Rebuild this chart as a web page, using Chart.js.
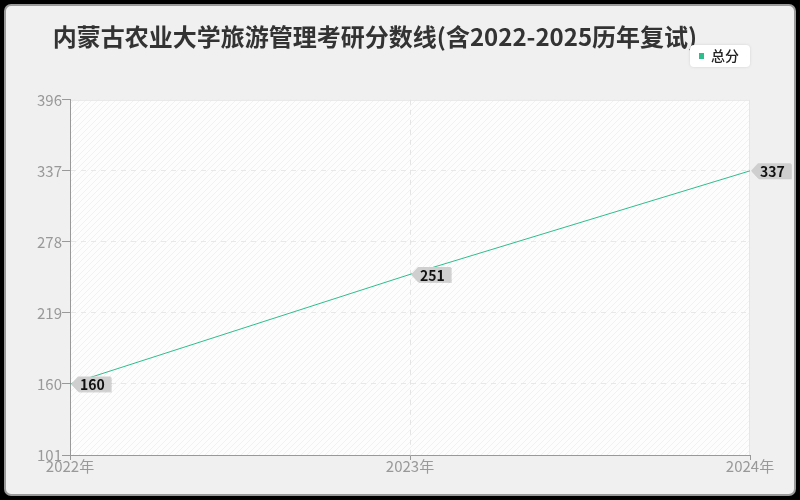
<!DOCTYPE html>
<html lang="zh">
<head>
    <meta charset="UTF-8">
    <title>内蒙古农业大学旅游管理考研分数线</title>
    <script src="https://cdn.jsdelivr.net/npm/chart.js"></script>
    <style>
        html, body { margin: 0; padding: 0; background: #000; }
        #frame {
            position: absolute; left: 4px; top: 4px; width: 788px; height: 488px;
            background: #f0f0f0; border: 2px solid #9a9a9a; border-radius: 7px;
        }
        #wrap { position: absolute; left: 0; top: 0; width: 800px; height: 500px; }
    </style>
</head>
<body>
    <div id="frame"></div>
    <div id="wrap"><canvas id="scoreChart" width="800" height="500"></canvas></div>
    <script>
        const titleText = '内蒙古农业大学旅游管理考研分数线(含2022-2025历年复试)';
        const years = ['2022年', '2023年', '2024年'];
        const totalScores = [160, 251, 337];
        const seriesName = '总分';
        const yMin = 101, yMax = 396, yStep = 59;
        const lineColor = '#2ebd8c';
        const fontFamily = '"Noto Sans CJK SC", "Noto Sans", sans-serif';

        // hatched background for plot area
        function makeHatch() {
            const c = document.createElement('canvas');
            c.width = 6; c.height = 6;
            const g = c.getContext('2d');
            g.fillStyle = '#fdfdfd';
            g.fillRect(0, 0, 6, 6);
            g.strokeStyle = '#f1f1f1';
            g.lineWidth = 1;
            g.beginPath();
            g.moveTo(0, 6); g.lineTo(6, 0);
            g.moveTo(-1, 1); g.lineTo(1, -1);
            g.moveTo(5, 7); g.lineTo(7, 5);
            g.stroke();
            return c;
        }

        const plotBg = {
            id: 'plotBg',
            beforeDraw(chart) {
                const { ctx, chartArea: a } = chart;
                ctx.save();
                ctx.fillStyle = ctx.createPattern(makeHatch(), 'repeat');
                ctx.fillRect(a.left, a.top, a.right - a.left, a.bottom - a.top);
                ctx.strokeStyle = '#e6e6e6';
                ctx.lineWidth = 1;
                ctx.beginPath();
                ctx.moveTo(a.left, a.top + 0.5); ctx.lineTo(a.right, a.top + 0.5);
                ctx.moveTo(a.right - 0.5, a.top); ctx.lineTo(a.right - 0.5, a.bottom);
                ctx.stroke();
                ctx.restore();
            }
        };

        const legendBox = {
            id: 'legendBox',
            afterDraw(chart) {
                const { ctx } = chart;
                const ds = chart.data.datasets[0];
                ctx.save();
                ctx.shadowColor = 'rgba(0,0,0,0.12)';
                ctx.shadowBlur = 3;
                ctx.fillStyle = '#ffffff';
                ctx.beginPath();
                ctx.roundRect(690, 45, 60, 22, 4);
                ctx.fill();
                ctx.shadowColor = 'transparent';
                ctx.fillStyle = ds.borderColor;
                ctx.fillRect(699, 53, 5, 6);
                ctx.fillStyle = '#222';
                ctx.font = '500 14px ' + fontFamily;
                ctx.textBaseline = 'middle';
                ctx.fillText(ds.label, 711, 56);
                ctx.restore();
            }
        };

        const pointTags = {
            id: 'pointTags',
            afterDatasetsDraw(chart) {
                const { ctx } = chart;
                const meta = chart.getDatasetMeta(0);
                ctx.save();
                ctx.font = 'bold 14px ' + fontFamily;
                ctx.textBaseline = 'middle';
                meta.data.forEach((pt, i) => {
                    const text = String(chart.data.datasets[0].data[i]);
                    const x = pt.x, y = pt.y;
                    const w = ctx.measureText(text).width + 8;
                    const h = 15;
                    const bx = x + 8;
                    ctx.fillStyle = '#cfcfcf';
                    ctx.shadowColor = 'rgba(0,0,0,0.15)';
                    ctx.shadowOffsetX = 1; ctx.shadowOffsetY = 1;
                    ctx.beginPath();
                    ctx.moveTo(x + 1, y);
                    ctx.lineTo(bx, y - h / 2);
                    ctx.lineTo(bx + w, y - h / 2);
                    ctx.lineTo(bx + w, y + h / 2);
                    ctx.lineTo(bx, y + h / 2);
                    ctx.closePath();
                    ctx.fill();
                    ctx.shadowColor = 'transparent';
                    ctx.fillStyle = '#111';
                    ctx.fillText(text, bx + 2, y + 1);
                });
                ctx.restore();
            }
        };

        new Chart(document.getElementById('scoreChart'), {
            type: 'line',
            data: {
                labels: years,
                datasets: [{
                    label: seriesName,
                    data: totalScores,
                    borderColor: lineColor,
                    backgroundColor: lineColor,
                    borderWidth: 1,
                    pointRadius: 0,
                    tension: 0
                }]
            },
            plugins: [plotBg, legendBox, pointTags],
            options: {
                responsive: false,
                animation: false,
                layout: { padding: { left: 0, right: 50, top: 0, bottom: 0 } },
                plugins: {
                    legend: { display: false },
                    tooltip: { enabled: false },
                    title: {
                        display: true,
                        text: titleText,
                        color: '#333',
                        font: { family: fontFamily, size: 24, weight: 'bold' },
                        padding: { top: 22, bottom: 49 }
                    }
                },
                scales: {
                    x: {
                        offset: false,
                        grid: {
                            color: (c) => (c.index === 1 ? '#e4e4e4' : 'transparent'),
                            drawTicks: true,
                            tickLength: 5,
                            tickColor: '#999'
                        },
                        border: { color: '#999', dash: [5, 5] },
                        ticks: {
                            color: '#999',
                            font: { family: fontFamily, size: 15 },
                            padding: -3,
                            maxRotation: 0
                        },
                        afterFit(s) { s.height = 45; }
                    },
                    y: {
                        min: yMin,
                        max: yMax,
                        grid: {
                            color: (c) => (c.index === 0 || c.index === 5 ? 'transparent' : '#e8e8e8'),
                            tickLength: 8,
                            tickColor: '#999'
                        },
                        border: { color: '#999', dash: [5, 5] },
                        ticks: {
                            stepSize: yStep,
                            color: '#999',
                            font: { family: fontFamily, size: 15 },
                            padding: 0
                        },
                        afterFit(s) { s.width = 70; }
                    }
                }
            }
        });
    </script>
</body>
</html>
